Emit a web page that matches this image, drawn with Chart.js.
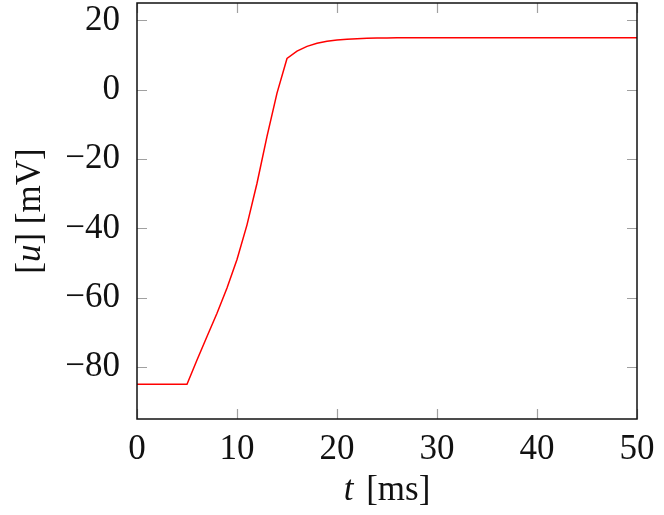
<!DOCTYPE html>
<html>
<head>
<meta charset="utf-8">
<style>
  html, body { margin: 0; padding: 0; background: #fff; }
  #wrap { width: 664px; height: 515px; }
</style>
<script src="https://cdn.jsdelivr.net/npm/chart.js@4.4.1/dist/chart.umd.min.js"></script>
</head>
<body>
<div id="wrap"><canvas id="c" width="664" height="515"></canvas></div>
<script>
var times = [0, 1, 2, 3, 4, 5, 6, 7, 8, 9, 10, 11, 12, 13, 14, 15, 16, 17, 18, 19, 20,
    21, 22, 23, 24, 25, 26, 27, 28, 30, 35, 40, 45, 50];
var voltage = [-85, -85, -85, -85, -85, -85, -78, -71.2, -64.5, -57.2, -49, -39, -27, -13.5, -1, 9,
    11.1, 12.5, 13.4, 13.95, 14.3, 14.55, 14.7, 14.8, 14.87, 14.92, 14.95, 14.97, 15, 15, 15, 15, 15, 15];
var xTicks = [0, 10, 20, 30, 40, 50];
var yTicks = [-80, -60, -40, -20, 0, 20];

var FONT = '"Liberation Serif", "DejaVu Serif", serif';
var FSIZE = 35;

var points = [];
for (var i = 0; i < times.length; i++) points.push({ x: times[i], y: voltage[i] });

function minus(v) {
    return String(v).replace("-", "\u2212");
}

// pgfplots style frame, inner ticks and axis labels
var framePlugin = {
    id: "frame",
    afterDraw: function (chart) {
        var ctx = chart.ctx, a = chart.chartArea;
        var xs = chart.scales.x, ys = chart.scales.y;
        ctx.save();
        ctx.strokeStyle = "#a0a0a0";
        ctx.lineWidth = 1.2;
        ctx.beginPath();
        xTicks.forEach(function (v) {
            var px = Math.round(xs.getPixelForValue(v)) + 0.5;
            ctx.moveTo(px, a.bottom); ctx.lineTo(px, a.bottom - 10);
            ctx.moveTo(px, a.top); ctx.lineTo(px, a.top + 10);
        });
        yTicks.forEach(function (v) {
            var py = Math.round(ys.getPixelForValue(v)) + 0.5;
            ctx.moveTo(a.left, py); ctx.lineTo(a.left + 10, py);
            ctx.moveTo(a.right, py); ctx.lineTo(a.right - 10, py);
        });
        ctx.stroke();
        ctx.strokeStyle = "#111";
        ctx.lineWidth = 1.5;
        ctx.strokeRect(a.left, a.top, a.right - a.left, a.bottom - a.top);

        // x axis label: t [ms]
        ctx.fillStyle = "#111";
        ctx.textBaseline = "alphabetic";
        var cx = (a.left + a.right) / 2;
        var f1 = "italic " + FSIZE + "px " + FONT, f2 = FSIZE + "px " + FONT;
        ctx.font = f1; var w1 = ctx.measureText("t").width;
        ctx.font = f2; var w2 = ctx.measureText(" [ms]").width;
        var sx = cx - (w1 + w2 + 4) / 2;
        ctx.font = f1; ctx.textAlign = "left"; ctx.fillText("t", sx, 500);
        ctx.font = f2; ctx.fillText(" [ms]", sx + w1 + 4, 500);

        // y axis label: [u] [mV]
        ctx.translate(40, (a.top + a.bottom) / 2);
        ctx.rotate(-Math.PI / 2);
        var parts = [["[", f2], ["u", f1], ["] [mV]", f2]];
        var tot = 0;
        parts.forEach(function (p) { ctx.font = p[1]; tot += ctx.measureText(p[0]).width; });
        var px0 = -tot / 2;
        parts.forEach(function (p) {
            ctx.font = p[1];
            ctx.fillText(p[0], px0, 0);
            px0 += ctx.measureText(p[0]).width;
        });
        ctx.restore();
    }
};

new Chart(document.getElementById("c"), {
    type: "line",
    data: {
        datasets: [{
            data: points,
            borderColor: "#ff0000",
            borderWidth: 1.5,
            pointRadius: 0,
            tension: 0,
            fill: false
        }]
    },
    options: {
        responsive: false,
        animation: false,
        layout: { padding: { left: 0, right: 27, top: 3, bottom: 0 } },
        plugins: { legend: { display: false }, tooltip: { enabled: false } },
        scales: {
            x: {
                type: "linear",
                min: 0,
                max: 50,
                afterBuildTicks: function (s) { s.ticks = xTicks.map(function (v) { return { value: v }; }); },
                afterFit: function (s) { s.height = 96; s.paddingLeft = 0; s.paddingRight = 0; },
                grid: { display: false },
                border: { display: false },
                ticks: {
                    color: "#111",
                    padding: 2,
                    font: { family: FONT, size: FSIZE },
                    maxRotation: 0,
                    callback: function (v) { return minus(v); }
                }
            },
            y: {
                type: "linear",
                min: -95,
                max: 25,
                afterBuildTicks: function (s) { s.ticks = yTicks.map(function (v) { return { value: v }; }); },
                afterFit: function (s) { s.width = 137; s.paddingTop = 0; s.paddingBottom = 0; },
                grid: { display: false },
                border: { display: false },
                ticks: {
                    color: "#111",
                    padding: 9,
                    font: { family: FONT, size: FSIZE },
                    callback: function (v) { return minus(v); }
                }
            }
        }
    },
    plugins: [framePlugin]
});
</script>
</body>
</html>
